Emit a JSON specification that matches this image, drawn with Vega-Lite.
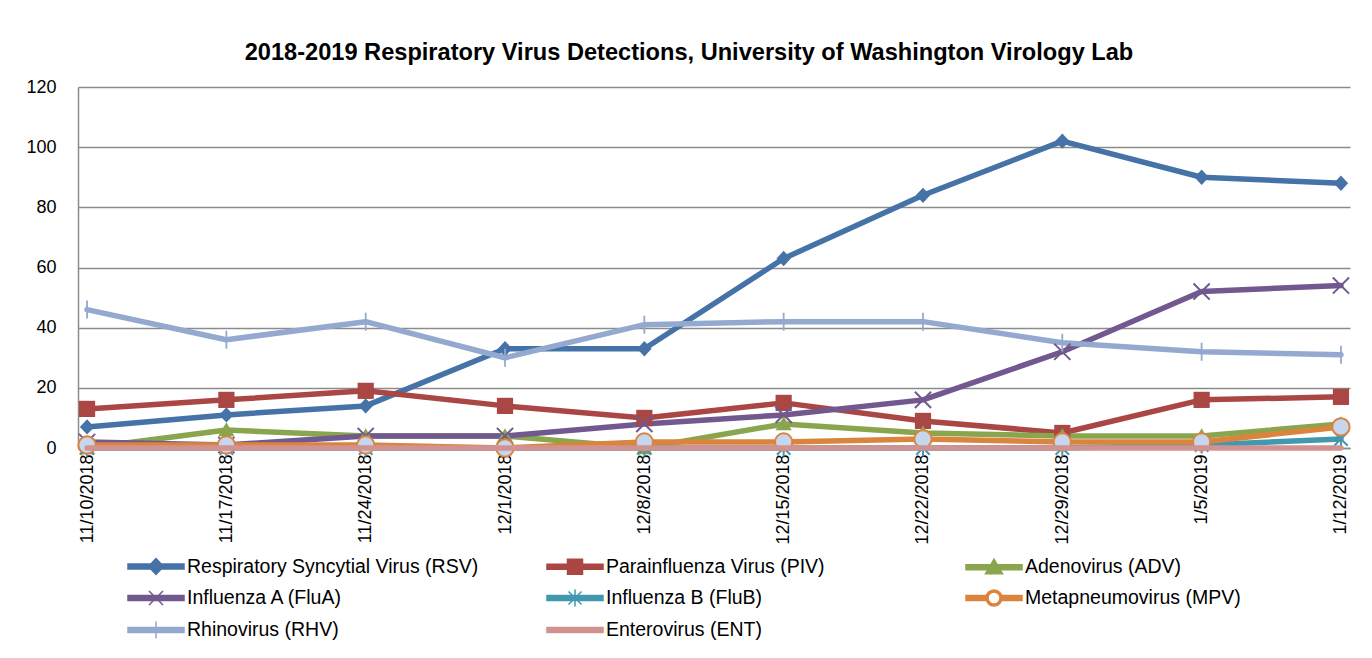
{
  "$schema": "https://vega.github.io/schema/vega-lite/v6.json",
  "width": 1272,
  "height": 361,
  "autosize": {"type": "none"},
  "padding": {"left": 78, "top": 87, "right": 22, "bottom": 210},
  "background": "white",
  "title": {
    "text": "2018-2019 Respiratory Virus Detections, University of Washington Virology Lab",
    "font": "Liberation Sans",
    "fontSize": 23.6,
    "fontWeight": "bold",
    "color": "black",
    "anchor": "middle",
    "baseline": "alphabetic",
    "dx": -25,
    "offset": -6
  },
  "config": {
    "view": {"stroke": null},
    "axis": {"labelFont": "Liberation Sans", "labelColor": "black", "labelFontSize": 18}
  },
  "data": {
    "values": [
      {"date": "11/10/2018", "virus": "Respiratory Syncytial Virus (RSV)", "count": 7},
      {"date": "11/17/2018", "virus": "Respiratory Syncytial Virus (RSV)", "count": 11},
      {"date": "11/24/2018", "virus": "Respiratory Syncytial Virus (RSV)", "count": 14},
      {"date": "12/1/2018", "virus": "Respiratory Syncytial Virus (RSV)", "count": 33},
      {"date": "12/8/2018", "virus": "Respiratory Syncytial Virus (RSV)", "count": 33},
      {"date": "12/15/2018", "virus": "Respiratory Syncytial Virus (RSV)", "count": 63},
      {"date": "12/22/2018", "virus": "Respiratory Syncytial Virus (RSV)", "count": 84},
      {"date": "12/29/2018", "virus": "Respiratory Syncytial Virus (RSV)", "count": 102},
      {"date": "1/5/2019", "virus": "Respiratory Syncytial Virus (RSV)", "count": 90},
      {"date": "1/12/2019", "virus": "Respiratory Syncytial Virus (RSV)", "count": 88},
      {"date": "11/10/2018", "virus": "Parainfluenza Virus (PIV)", "count": 13},
      {"date": "11/17/2018", "virus": "Parainfluenza Virus (PIV)", "count": 16},
      {"date": "11/24/2018", "virus": "Parainfluenza Virus (PIV)", "count": 19},
      {"date": "12/1/2018", "virus": "Parainfluenza Virus (PIV)", "count": 14},
      {"date": "12/8/2018", "virus": "Parainfluenza Virus (PIV)", "count": 10},
      {"date": "12/15/2018", "virus": "Parainfluenza Virus (PIV)", "count": 15},
      {"date": "12/22/2018", "virus": "Parainfluenza Virus (PIV)", "count": 9},
      {"date": "12/29/2018", "virus": "Parainfluenza Virus (PIV)", "count": 5},
      {"date": "1/5/2019", "virus": "Parainfluenza Virus (PIV)", "count": 16},
      {"date": "1/12/2019", "virus": "Parainfluenza Virus (PIV)", "count": 17},
      {"date": "11/10/2018", "virus": "Adenovirus (ADV)", "count": 0},
      {"date": "11/17/2018", "virus": "Adenovirus (ADV)", "count": 6},
      {"date": "11/24/2018", "virus": "Adenovirus (ADV)", "count": 4},
      {"date": "12/1/2018", "virus": "Adenovirus (ADV)", "count": 4},
      {"date": "12/8/2018", "virus": "Adenovirus (ADV)", "count": 0},
      {"date": "12/15/2018", "virus": "Adenovirus (ADV)", "count": 8},
      {"date": "12/22/2018", "virus": "Adenovirus (ADV)", "count": 5},
      {"date": "12/29/2018", "virus": "Adenovirus (ADV)", "count": 4},
      {"date": "1/5/2019", "virus": "Adenovirus (ADV)", "count": 4},
      {"date": "1/12/2019", "virus": "Adenovirus (ADV)", "count": 8},
      {"date": "11/10/2018", "virus": "Influenza A (FluA)", "count": 2},
      {"date": "11/17/2018", "virus": "Influenza A (FluA)", "count": 1},
      {"date": "11/24/2018", "virus": "Influenza A (FluA)", "count": 4},
      {"date": "12/1/2018", "virus": "Influenza A (FluA)", "count": 4},
      {"date": "12/8/2018", "virus": "Influenza A (FluA)", "count": 8},
      {"date": "12/15/2018", "virus": "Influenza A (FluA)", "count": 11},
      {"date": "12/22/2018", "virus": "Influenza A (FluA)", "count": 16},
      {"date": "12/29/2018", "virus": "Influenza A (FluA)", "count": 32},
      {"date": "1/5/2019", "virus": "Influenza A (FluA)", "count": 52},
      {"date": "1/12/2019", "virus": "Influenza A (FluA)", "count": 54},
      {"date": "11/10/2018", "virus": "Influenza B (FluB)", "count": 0},
      {"date": "11/17/2018", "virus": "Influenza B (FluB)", "count": 0},
      {"date": "11/24/2018", "virus": "Influenza B (FluB)", "count": 0},
      {"date": "12/1/2018", "virus": "Influenza B (FluB)", "count": 0},
      {"date": "12/8/2018", "virus": "Influenza B (FluB)", "count": 0},
      {"date": "12/15/2018", "virus": "Influenza B (FluB)", "count": 0},
      {"date": "12/22/2018", "virus": "Influenza B (FluB)", "count": 0},
      {"date": "12/29/2018", "virus": "Influenza B (FluB)", "count": 0},
      {"date": "1/5/2019", "virus": "Influenza B (FluB)", "count": 1},
      {"date": "1/12/2019", "virus": "Influenza B (FluB)", "count": 3},
      {"date": "11/10/2018", "virus": "Metapneumovirus (MPV)", "count": 1},
      {"date": "11/17/2018", "virus": "Metapneumovirus (MPV)", "count": 1},
      {"date": "11/24/2018", "virus": "Metapneumovirus (MPV)", "count": 1},
      {"date": "12/1/2018", "virus": "Metapneumovirus (MPV)", "count": 0},
      {"date": "12/8/2018", "virus": "Metapneumovirus (MPV)", "count": 2},
      {"date": "12/15/2018", "virus": "Metapneumovirus (MPV)", "count": 2},
      {"date": "12/22/2018", "virus": "Metapneumovirus (MPV)", "count": 3},
      {"date": "12/29/2018", "virus": "Metapneumovirus (MPV)", "count": 2},
      {"date": "1/5/2019", "virus": "Metapneumovirus (MPV)", "count": 2},
      {"date": "1/12/2019", "virus": "Metapneumovirus (MPV)", "count": 7},
      {"date": "11/10/2018", "virus": "Rhinovirus (RHV)", "count": 46},
      {"date": "11/17/2018", "virus": "Rhinovirus (RHV)", "count": 36},
      {"date": "11/24/2018", "virus": "Rhinovirus (RHV)", "count": 42},
      {"date": "12/1/2018", "virus": "Rhinovirus (RHV)", "count": 30},
      {"date": "12/8/2018", "virus": "Rhinovirus (RHV)", "count": 41},
      {"date": "12/15/2018", "virus": "Rhinovirus (RHV)", "count": 42},
      {"date": "12/22/2018", "virus": "Rhinovirus (RHV)", "count": 42},
      {"date": "12/29/2018", "virus": "Rhinovirus (RHV)", "count": 35},
      {"date": "1/5/2019", "virus": "Rhinovirus (RHV)", "count": 32},
      {"date": "1/12/2019", "virus": "Rhinovirus (RHV)", "count": 31},
      {"date": "11/10/2018", "virus": "Enterovirus (ENT)", "count": 0},
      {"date": "11/17/2018", "virus": "Enterovirus (ENT)", "count": 0},
      {"date": "11/24/2018", "virus": "Enterovirus (ENT)", "count": 0},
      {"date": "12/1/2018", "virus": "Enterovirus (ENT)", "count": 0},
      {"date": "12/8/2018", "virus": "Enterovirus (ENT)", "count": 0},
      {"date": "12/15/2018", "virus": "Enterovirus (ENT)", "count": 0},
      {"date": "12/22/2018", "virus": "Enterovirus (ENT)", "count": 0},
      {"date": "12/29/2018", "virus": "Enterovirus (ENT)", "count": 0},
      {"date": "1/5/2019", "virus": "Enterovirus (ENT)", "count": 0},
      {"date": "1/12/2019", "virus": "Enterovirus (ENT)", "count": 0}
    ]
  },
  "encoding": {
    "x": {
      "field": "date",
      "type": "ordinal",
      "sort": ["11/10/2018", "11/17/2018", "11/24/2018", "12/1/2018", "12/8/2018", "12/15/2018", "12/22/2018", "12/29/2018", "1/5/2019", "1/12/2019"],
      "scale": {"type": "point", "padding": 0.065},
      "axis": {"title": null, "labelAngle": 270, "ticks": false, "labelPadding": 6, "domainColor": "#8c8c8c", "domainWidth": 1.5, "grid": false}
    },
    "y": {
      "field": "count",
      "type": "quantitative",
      "scale": {"domain": [0, 120], "nice": false},
      "axis": {"title": null, "values": [0, 20, 40, 60, 80, 100, 120], "ticks": false, "labelPadding": 22, "grid": true, "gridColor": "#8c8c8c", "gridWidth": 1.5, "domainColor": "#8c8c8c", "domainWidth": 1.5}
    },
    "color": {
      "field": "virus",
      "type": "nominal",
      "scale": {
        "domain": ["Respiratory Syncytial Virus (RSV)", "Parainfluenza Virus (PIV)", "Adenovirus (ADV)", "Influenza A (FluA)", "Influenza B (FluB)", "Metapneumovirus (MPV)", "Rhinovirus (RHV)", "Enterovirus (ENT)"],
        "range": ["#4572A7", "#AA4643", "#89A54E", "#71588F", "#4198AF", "#DB843D", "#93A9CF", "#D19392"]
      },
      "legend": {
        "orient": "none",
        "direction": "horizontal",
        "legendX": 49,
        "legendY": 468,
        "columns": 3,
        "gridAlign": "all",
        "columnPadding": 65,
        "rowPadding": 8,
        "padding": 0,
        "title": null,
        "symbolSize": 400,
        "symbolStrokeWidth": 1.5,
        "symbolOpacity": 1,
        "labelOffset": 38,
        "labelFont": "Liberation Sans",
        "labelFontSize": 19.5,
        "labelColor": "black",
        "labelLimit": 0,
        "encode": {
          "symbols": {
            "update": {
              "shape": {"signal": "['M-1,-0.25H4.6V0.25H-1ZM1.8,-0.8L2.55,0L1.8,0.8L1.05,0Z','M-1,-0.25H4.6V0.25H-1ZM1.05,-0.75H2.55V0.75H1.05Z','M-1,-0.25H4.6V0.25H-1ZM1.8,-0.8L2.65,0.65L0.95,0.65Z','M-1,-0.25H4.6V0.25H-1ZM1.1,-0.7L2.5,0.7M1.1,0.7L2.5,-0.7','M-1,-0.25H4.6V0.25H-1ZM1.15,-0.65L2.45,0.65M1.15,0.65L2.45,-0.65M1.8,-0.85V0.85','M-1,-0.25H1V0.25H-1ZM2.6,-0.25H4.6V0.25H2.6ZM1,0A0.8,0.8 0 1,1 2.6,0A0.8,0.8 0 1,1 1,0ZM1.2,0A0.6,0.6 0 1,0 2.4,0A0.6,0.6 0 1,0 1.2,0Z','M-1,-0.25H4.6V0.25H-1ZM1.8,-0.85V0.85','M-1,-0.25H4.6V0.25H-1Z'][indexof(['Respiratory Syncytial Virus (RSV)','Parainfluenza Virus (PIV)','Adenovirus (ADV)','Influenza A (FluA)','Influenza B (FluB)','Metapneumovirus (MPV)','Rhinovirus (RHV)','Enterovirus (ENT)'], datum.value)]"},
              "fill": {"signal": "scale('color', datum.value)"},
              "stroke": {"signal": "scale('color', datum.value)"},
              "strokeWidth": {"value": 1.5},
              "opacity": {"value": 1}
            }
          }
        }
      }
    }
  },
  "layer": [
    {
      "transform": [{"filter": "datum.virus !== 'Enterovirus (ENT)'"}],
      "mark": {"type": "line", "strokeWidth": 5.5, "strokeJoin": "round", "strokeCap": "round"}
    },
    {
      "transform": [{"filter": {"field": "virus", "equal": "Respiratory Syncytial Virus (RSV)"}}],
      "mark": {"type": "point", "filled": true, "size": 324, "opacity": 1, "shape": "M0,-0.85L0.8,0L0,0.85L-0.8,0Z"}
    },
    {
      "transform": [{"filter": {"field": "virus", "equal": "Parainfluenza Virus (PIV)"}}],
      "mark": {"type": "point", "filled": true, "size": 324, "opacity": 1, "shape": "M-0.9,-0.9H0.9V0.9H-0.9Z"}
    },
    {
      "transform": [{"filter": {"field": "virus", "equal": "Adenovirus (ADV)"}}],
      "mark": {"type": "point", "filled": true, "size": 324, "opacity": 1, "shape": "M0,-0.85L0.9,0.7L-0.9,0.7Z"}
    },
    {
      "transform": [{"filter": {"field": "virus", "equal": "Influenza A (FluA)"}}],
      "mark": {"type": "point", "filled": false, "size": 324, "strokeWidth": 2, "opacity": 1, "shape": "M-0.9,-0.9L0.9,0.9M-0.9,0.9L0.9,-0.9"}
    },
    {
      "transform": [{"filter": {"field": "virus", "equal": "Influenza B (FluB)"}}],
      "mark": {"type": "point", "filled": false, "size": 324, "strokeWidth": 2, "opacity": 1, "shape": "M-0.75,-0.75L0.75,0.75M-0.75,0.75L0.75,-0.75M0,-0.95V0.95"}
    },
    {
      "transform": [{"filter": {"field": "virus", "equal": "Rhinovirus (RHV)"}}],
      "mark": {"type": "point", "filled": false, "size": 324, "strokeWidth": 1.8, "opacity": 1, "shape": "M0,-1V1"}
    },
    {
      "transform": [{"filter": {"field": "virus", "equal": "Metapneumovirus (MPV)"}}],
      "mark": {"type": "point", "shape": "circle", "size": 300, "strokeWidth": 2, "opacity": 1},
      "encoding": {
        "fill": {"value": "#C6D6EE"},
        "stroke": {"value": "#DB843D"}
      }
    },
    {
      "transform": [{"filter": {"field": "virus", "equal": "Enterovirus (ENT)"}}],
      "mark": {"type": "line", "strokeWidth": 5.5, "strokeJoin": "round", "strokeCap": "round"}
    }
  ]
}
